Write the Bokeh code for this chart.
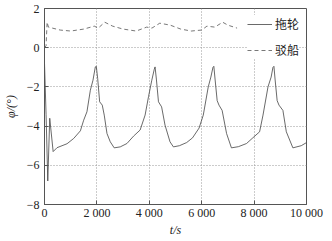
from bokeh.plotting import figure
from bokeh.models import Legend, LegendItem, FixedTicker, Range1d
from bokeh.embed import file_html
from bokeh.resources import INLINE

# tug (拖轮) angle, deg
tug_t = [0, 60, 125, 200, 330, 480, 860, 1115, 1370, 1495, 1620, 1750, 1850, 1940, 1977,
         2030, 2105, 2205, 2280, 2385, 2510, 2660, 2890, 3145, 3400, 3650, 3840, 3970, 4095,
         4190, 4220, 4270, 4350, 4470, 4600, 4790, 4920, 5150, 5425, 5650, 5900, 6060, 6250,
         6350, 6430, 6464, 6510, 6590, 6660, 6780, 6950, 7135, 7400, 7710, 7950, 8210, 8340,
         8530, 8650, 8720, 8757, 8800, 8880, 8950, 9100, 9230, 9480, 9800, 10000]
tug_v = [-0.8, -3.4, -6.8, -3.6, -5.3, -5.1, -4.9, -4.63, -4.24, -3.7, -3.27, -2.17, -1.66, -0.98, -0.95,
         -1.57, -2.76, -2.93, -3.44, -4.38, -4.8, -5.11, -5.06, -4.89, -4.51, -4.2, -3.44, -2.5, -1.66,
         -1.1, -0.98, -1.6, -2.76, -3.02, -3.95, -4.8, -5.06, -5.0, -4.84, -4.6, -4.1, -3.44, -2.0,
         -1.5, -1.0, -0.95, -1.6, -2.7, -2.93, -3.2, -4.38, -5.11, -5.05, -4.89, -4.6, -4.29, -3.44,
         -2.0, -1.5, -1.0, -0.95, -1.6, -2.7, -2.93, -3.2, -4.29, -5.11, -5.0, -4.84]

# barge (驳船) angle, deg
barge_t = [0, 60, 100, 150, 300, 600, 1000, 1500, 1900, 2050, 2300, 2600, 3000, 3500, 3900,
           4100, 4400, 4800, 5200, 5600, 6000, 6200, 6500, 6800, 7000, 7350]
barge_v = [0.0, 0.1, 1.3, 1.05, 1.0, 0.9, 0.85, 0.95, 1.1, 1.0, 1.3, 1.1, 0.95, 0.85, 1.05,
           1.0, 1.25, 1.15, 0.95, 0.85, 0.9, 1.1, 1.05, 1.3, 1.15, 1.0]

x_ticks = [0, 2000, 4000, 6000, 8000, 10000]
x_labels = ["0", "2 000", "4 000", "6 000", "8 000", "10 000"]
y_ticks = [-8, -6, -4, -2, 0, 2]
y_labels = ["\u22128", "\u22126", "\u22124", "\u22122", "0", "2"]

FONT = "Liberation Serif"

p = figure(width=330, height=239, output_backend="svg", toolbar_location=None,
           x_range=Range1d(0, 10000), y_range=Range1d(-8, 2),
           min_border_left=44, min_border_right=24, min_border_top=8, min_border_bottom=33)
p.background_fill_color = "white"
p.border_fill_color = "white"
p.outline_line_color = "#555555"
p.outline_line_width = 1

for ax in (p.xaxis[0], p.yaxis[0]):
    ax.major_tick_in = 4
    ax.major_tick_out = 0
    ax.minor_tick_in = 0
    ax.minor_tick_out = 0
    ax.axis_line_color = "#555555"
    ax.major_tick_line_color = "#555555"
    ax.major_label_text_font = FONT
    ax.major_label_text_font_size = "12px"
    ax.major_label_text_color = "#222222"
    ax.axis_label_text_font = FONT
    ax.axis_label_text_font_size = "12px"
    ax.axis_label_text_font_style = "italic"
    ax.axis_label_text_color = "#222222"

p.xaxis[0].ticker = FixedTicker(ticks=x_ticks)
p.xaxis[0].major_label_overrides = dict(zip(x_ticks, x_labels))
p.xaxis[0].major_label_standoff = 1
p.xaxis[0].axis_label = "t/s"
p.xaxis[0].axis_label_standoff = 0
p.yaxis[0].ticker = FixedTicker(ticks=y_ticks)
p.yaxis[0].major_label_standoff = 5
p.yaxis[0].major_label_overrides = dict(zip(y_ticks, y_labels))
p.yaxis[0].axis_label = "φ/(°)"
p.yaxis[0].axis_label_standoff = 6

p.xgrid.ticker = FixedTicker(ticks=x_ticks)
p.ygrid.ticker = FixedTicker(ticks=y_ticks)
for g in (p.xgrid[0], p.ygrid[0]):
    g.grid_line_color = "#999999"
    g.grid_line_dash = "1 2"
    g.grid_line_width = 1

r1 = p.line(tug_t, tug_v, line_color="#444444", line_width=0.8)
r2 = p.line(barge_t, barge_v, line_color="#555555", line_width=0.8, line_dash="4 3")

legend = Legend(items=[LegendItem(label="拖轮", renderers=[r1]),
                       LegendItem(label="驳船", renderers=[r2])],
                location="top_right")
legend.label_text_font = "Noto Sans CJK SC"
legend.label_text_font_size = "12px"
legend.label_text_color = "#222222"
legend.border_line_color = None
legend.background_fill_color = "white"
legend.background_fill_alpha = 1.0
legend.glyph_width = 25
legend.glyph_height = 14
legend.label_standoff = 3
legend.spacing = 9
legend.padding = 2
legend.margin = 7
p.add_layout(legend)

open("out.html", "w").write(file_html(p, INLINE))
